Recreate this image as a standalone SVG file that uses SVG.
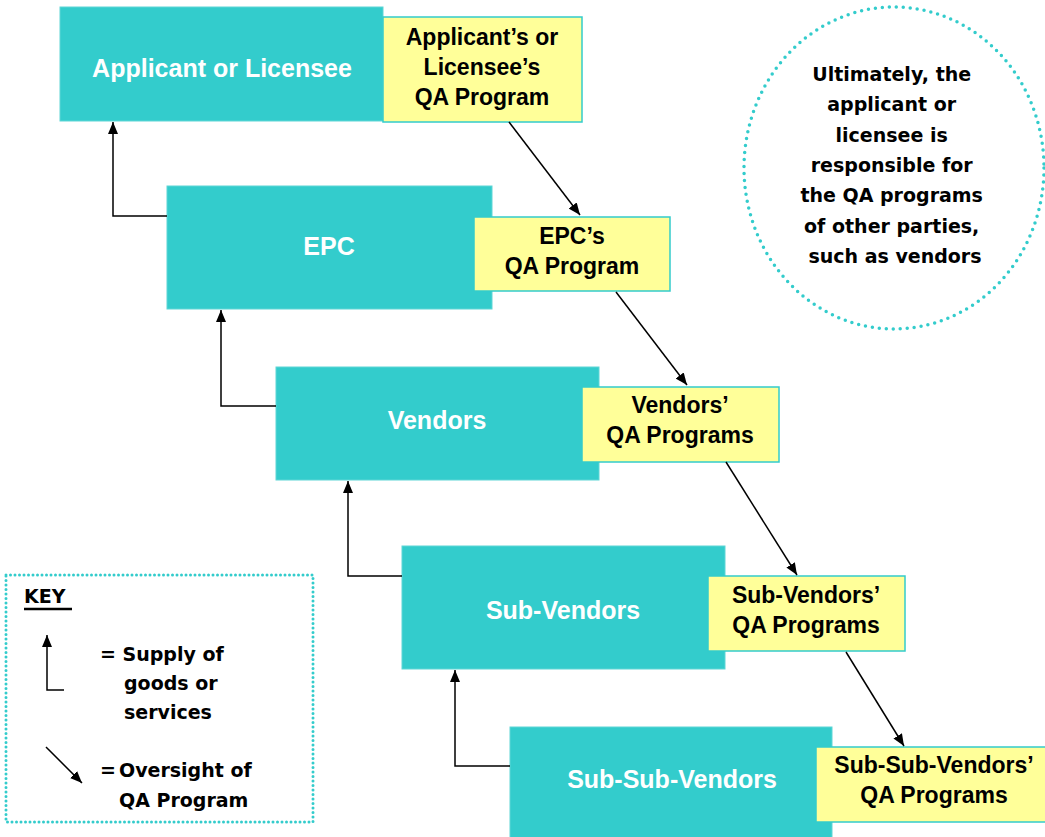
<svg xmlns="http://www.w3.org/2000/svg" width="1045" height="837" viewBox="0 0 1045 837">
  <style>
    .party { fill: #33CCCC; stroke: #5fd6d6; stroke-width: 1; }
    .qa { fill: #FFFF99; stroke: #33CCCC; stroke-width: 1.5; }
    .party-label { font-family: "Liberation Sans", Arial, sans-serif; font-weight: bold; font-size: 25px; fill: #ffffff; text-anchor: middle; }
    .qa-label { font-family: "Liberation Sans", Arial, sans-serif; font-weight: bold; font-size: 23px; fill: #000000; text-anchor: middle; }
    .note { font-family: "DejaVu Sans", Verdana, sans-serif; font-weight: bold; font-size: 19px; fill: #000000; }
    .link { fill: none; stroke: #000000; stroke-width: 1.5; }
    .dotted { fill: none; stroke: #33CCCC; stroke-linecap: round; }
  </style>
  <defs>
    <marker id="head" viewBox="0 0 12 10" refX="12" refY="5" markerWidth="12" markerHeight="10" markerUnits="userSpaceOnUse" orient="auto">
      <path d="M0,0 L12,5 L0,10 z" fill="#000000"/>
    </marker>
  </defs>
  <rect width="1045" height="837" fill="#ffffff"/>

  <!-- supply chain tiers -->
  <g id="applicant">
    <rect class="party" x="60" y="7" width="323" height="114"/>
    <text class="party-label" x="222" y="77">Applicant or Licensee</text>
  </g>
  <g id="applicant-qa">
    <rect class="qa" x="383" y="17" width="199" height="105"/>
    <text class="qa-label" x="482" y="45">Applicant’s or</text>
    <text class="qa-label" x="482" y="75">Licensee’s</text>
    <text class="qa-label" x="482" y="105">QA Program</text>
  </g>

  <g id="epc">
    <rect class="party" x="167" y="186" width="325" height="123"/>
    <text class="party-label" x="329" y="255">EPC</text>
  </g>
  <g id="epc-qa">
    <rect class="qa" x="474" y="217" width="196" height="74"/>
    <text class="qa-label" x="572" y="244">EPC’s</text>
    <text class="qa-label" x="572" y="274">QA Program</text>
  </g>

  <g id="vendors">
    <rect class="party" x="276" y="367" width="323" height="113"/>
    <text class="party-label" x="437" y="429">Vendors</text>
  </g>
  <g id="vendors-qa">
    <rect class="qa" x="582" y="387" width="197" height="75"/>
    <text class="qa-label" x="680" y="413">Vendors’</text>
    <text class="qa-label" x="680" y="443">QA Programs</text>
  </g>

  <g id="sub-vendors">
    <rect class="party" x="402" y="546" width="323" height="123"/>
    <text class="party-label" x="563" y="619">Sub-Vendors</text>
  </g>
  <g id="sub-vendors-qa">
    <rect class="qa" x="708" y="576" width="197" height="75"/>
    <text class="qa-label" x="806" y="603">Sub-Vendors’</text>
    <text class="qa-label" x="806" y="633">QA Programs</text>
  </g>

  <g id="sub-sub-vendors">
    <rect class="party" x="510" y="727" width="322" height="120"/>
    <text class="party-label" x="672" y="788">Sub-Sub-Vendors</text>
  </g>
  <g id="sub-sub-vendors-qa">
    <rect class="qa" x="816" y="747" width="237" height="75"/>
    <text class="qa-label" x="934" y="773">Sub-Sub-Vendors’</text>
    <text class="qa-label" x="934" y="803">QA Programs</text>
  </g>

  <!-- connectors: supply (elbow, upward) and QA oversight (diagonal) -->
  <g id="connectors">
    <path class="link" d="M167 216 H113 V122" marker-end="url(#head)"/>
    <path class="link" d="M276 406 H221 V310" marker-end="url(#head)"/>
    <path class="link" d="M402 576 H348 V481" marker-end="url(#head)"/>
    <path class="link" d="M510 766 H455 V670" marker-end="url(#head)"/>
    <path class="link" d="M509 122 L580 215" marker-end="url(#head)"/>
    <path class="link" d="M616 292 L687 385" marker-end="url(#head)"/>
    <path class="link" d="M726 462 L797 575" marker-end="url(#head)"/>
    <path class="link" d="M846 652 L904 746" marker-end="url(#head)"/>
  </g>

  <!-- responsibility note -->
  <g id="note">
    <ellipse class="dotted" cx="894" cy="168" rx="150" ry="161" stroke-width="3.5" stroke-dasharray="0 7"/>
    <text class="note" text-anchor="middle">
      <tspan x="895" y="81">Ultimately, the</tspan>
      <tspan x="895" y="111">applicant or</tspan>
      <tspan x="895" y="142">licensee is</tspan>
      <tspan x="895" y="172">responsible for</tspan>
      <tspan x="895" y="202">the QA programs</tspan>
      <tspan x="895" y="233">of other parties,</tspan>
      <tspan x="895" y="263">such as vendors</tspan>
    </text>
  </g>

  <!-- legend -->
  <g id="key">
    <rect class="dotted" x="6" y="575" width="307" height="247" stroke-width="3" stroke-dasharray="0 4.5"/>
    <text class="note" x="24" y="603" font-size="21.5">KEY</text>
    <line x1="24" y1="609" x2="72" y2="609" stroke="#000000" stroke-width="2.5"/>
    <path class="link" d="M64 690 H47 V635" marker-end="url(#head)"/>
    <text class="note" x="100" y="661">= Supply of</text>
    <text class="note" x="124" y="690">goods or</text>
    <text class="note" x="124" y="719">services</text>
    <path class="link" d="M46 747 L82 783" marker-end="url(#head)"/>
    <text class="note" x="100" y="777">=<tspan x="119">Oversight of</tspan></text>
    <text class="note" x="119" y="807">QA Program</text>
  </g>
</svg>
